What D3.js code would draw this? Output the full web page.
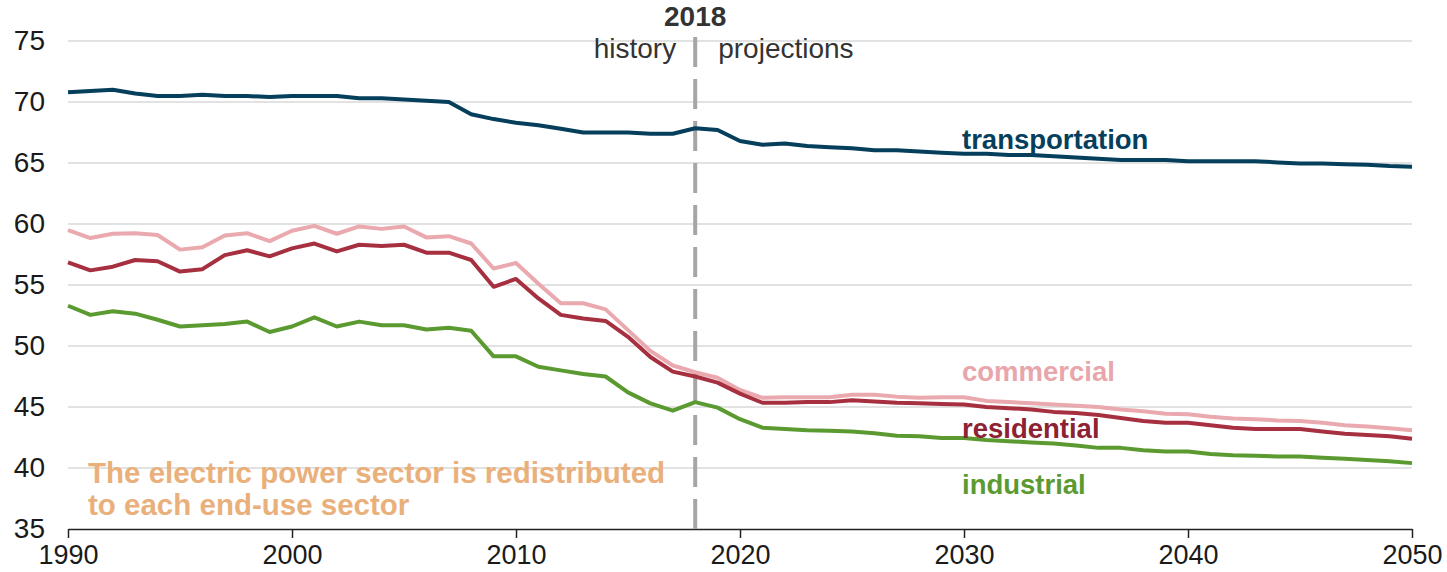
<!DOCTYPE html>
<html>
<head>
<meta charset="utf-8">
<script src="https://cdn.jsdelivr.net/npm/d3@7"></script>
<style>
  body { margin: 0; background: #fff; }
  svg text { font-family: "Liberation Sans", Arial, sans-serif; }
</style>
</head>
<body>
<svg id="chart" width="1447" height="572"></svg>
<script>
// years 1990..2050
const years = d3.range(1990, 2051);

const transportation = [
  70.8, 70.9, 71.0, 70.7, 70.5, 70.5, 70.6, 70.5, 70.5, 70.4,
  70.5, 70.5, 70.5, 70.3, 70.3, 70.2, 70.1, 70.0, 69.0, 68.6,
  68.3, 68.1, 67.8, 67.5, 67.5, 67.5, 67.4, 67.4, 67.85, 67.7,
  66.8, 66.5, 66.6, 66.4, 66.3, 66.2, 66.05, 66.05, 65.95, 65.85,
  65.75, 65.75, 65.65, 65.65, 65.55, 65.45, 65.35, 65.25, 65.25, 65.25,
  65.15, 65.15, 65.15, 65.15, 65.05, 64.95, 64.95, 64.9, 64.85, 64.75,
  64.7
];
const commercial = [
  59.5, 58.85, 59.2, 59.25, 59.1, 57.9, 58.1, 59.05, 59.25, 58.6,
  59.45, 59.85, 59.2, 59.8, 59.6, 59.8, 58.9, 59.0, 58.4, 56.35,
  56.8, 55.1, 53.5, 53.5, 53.0, 51.3, 49.6, 48.4, 47.85, 47.4,
  46.4, 45.75, 45.8, 45.8, 45.8, 46.0, 46.0, 45.85, 45.75, 45.8,
  45.8, 45.5, 45.4, 45.3, 45.2, 45.1, 45.0, 44.8, 44.65, 44.45,
  44.4, 44.2, 44.05, 44.0, 43.9, 43.85, 43.7, 43.5, 43.4, 43.25,
  43.1
];
const residential = [
  56.85, 56.2, 56.5, 57.05, 56.95, 56.1, 56.3, 57.45, 57.85, 57.35,
  58.0, 58.4, 57.75, 58.3, 58.2, 58.3, 57.65, 57.65, 57.05, 54.85,
  55.5, 53.9, 52.55, 52.25, 52.05, 50.75, 49.1, 47.9, 47.5, 47.0,
  46.1, 45.35, 45.35, 45.4, 45.4, 45.55, 45.45, 45.35, 45.3, 45.25,
  45.2, 45.0, 44.9, 44.8, 44.6, 44.5, 44.35, 44.1, 43.85, 43.7,
  43.7, 43.5, 43.3, 43.2, 43.2, 43.2, 43.0, 42.8, 42.7, 42.6,
  42.4
];
const industrial = [
  53.3, 52.55, 52.85, 52.65, 52.15, 51.6, 51.7, 51.8, 52.0, 51.15,
  51.6, 52.35, 51.6, 52.0, 51.7, 51.7, 51.35, 51.5, 51.25, 49.15,
  49.15, 48.3, 48.0, 47.7, 47.5, 46.2, 45.3, 44.7, 45.4, 44.95,
  44.0, 43.3, 43.2, 43.1, 43.05, 43.0, 42.85, 42.65, 42.6, 42.45,
  42.45, 42.3, 42.2, 42.1, 42.0, 41.85, 41.65, 41.65, 41.45, 41.35,
  41.35, 41.15, 41.05, 41.0, 40.95, 40.95, 40.85, 40.75, 40.65, 40.55,
  40.4
];

const yTicks = [35, 40, 45, 50, 55, 60, 65, 70, 75];
const xTicks = [1990, 2000, 2010, 2020, 2030, 2040, 2050];
const splitYear = 2018;

const series = [
  { name: "commercial", values: commercial, color: "#e9a9ae", label: "#e8a6ac", ly: 47.13 },
  { name: "residential", values: residential, color: "#a6303f", label: "#8c2232", ly: 42.46 },
  { name: "industrial", values: industrial, color: "#5b9a30", label: "#5b9a30", ly: 37.87 },
  { name: "transportation", values: transportation, color: "#053f5c", label: "#053f5c", ly: 66.15 }
];

const svg = d3.select("#chart");
const x = d3.scaleLinear().domain([1990, 2050]).range([68, 1412]);
const y = d3.scaleLinear().domain([35, 75]).range([529, 41]);

// grid
svg.append("g")
  .selectAll("line")
  .data(yTicks.filter(d => d > 35))
  .join("line")
  .attr("x1", x(1990)).attr("x2", x(2050))
  .attr("y1", d => y(d)).attr("y2", d => y(d))
  .attr("stroke", "#d9d9d9").attr("stroke-width", 1.5);

// y axis labels
const yAxis = svg.append("g")
  .attr("transform", `translate(${x(1990)},0)`)
  .call(d3.axisLeft(y).tickValues(yTicks).tickSize(0).tickPadding(23));
yAxis.select(".domain").remove();
yAxis.selectAll("text")
  .style("font-size", "28px").attr("fill", "#1a1a1a")
  .attr("font-family", "Liberation Sans, Arial, sans-serif");

// x axis
const xAxis = svg.append("g")
  .attr("transform", `translate(0,${y(35)})`)
  .call(d3.axisBottom(x).tickValues(xTicks).tickFormat(d3.format("d")).tickSize(9).tickSizeOuter(0).tickPadding(7));
xAxis.select(".domain").attr("stroke", "#222").attr("stroke-width", 1.5);
xAxis.selectAll(".tick line").attr("stroke", "#222").attr("stroke-width", 1.5);
xAxis.selectAll("text")
  .style("font-size", "27px").attr("fill", "#1a1a1a")
  .attr("font-family", "Liberation Sans, Arial, sans-serif");

// 2018 divider
svg.append("line")
  .attr("x1", x(splitYear)).attr("x2", x(splitYear))
  .attr("y1", 37).attr("y2", y(35))
  .attr("stroke", "#a6a6a6").attr("stroke-width", 4)
  .attr("stroke-dasharray", "30,12");

svg.append("text")
  .attr("x", x(splitYear)).attr("y", 26)
  .attr("text-anchor", "middle")
  .attr("font-weight", "bold").attr("font-size", 28).attr("fill", "#333")
  .text("2018");
svg.append("text")
  .attr("x", x(splitYear) - 19).attr("y", 58)
  .attr("text-anchor", "end")
  .attr("font-size", 28).attr("fill", "#333")
  .text("history");
svg.append("text")
  .attr("x", x(splitYear) + 23).attr("y", 58)
  .attr("font-size", 28).attr("fill", "#333")
  .text("projections");

// lines
const line = d3.line().x((d, i) => x(years[i])).y(d => y(d));
svg.append("g")
  .selectAll("path")
  .data(series)
  .join("path")
  .attr("d", d => line(d.values))
  .attr("fill", "none")
  .attr("stroke", d => d.color)
  .attr("stroke-width", 4)
  .attr("stroke-linejoin", "round");

// series labels
svg.append("g")
  .selectAll("text")
  .data(series)
  .join("text")
  .attr("x", x(2030) - 2)
  .attr("y", d => y(d.ly))
  .attr("font-weight", "bold").attr("font-size", 27.5)
  .attr("fill", d => d.label)
  .text(d => d.name);

// note
const note = svg.append("text")
  .attr("x", 88).attr("y", 483)
  .attr("font-weight", "bold").attr("font-size", 29.5).attr("fill", "#e9b07c");
note.append("tspan").attr("x", 88).text("The electric power sector is redistributed");
note.append("tspan").attr("x", 88).attr("dy", 32).text("to each end-use sector");
</script>
</body>
</html>
